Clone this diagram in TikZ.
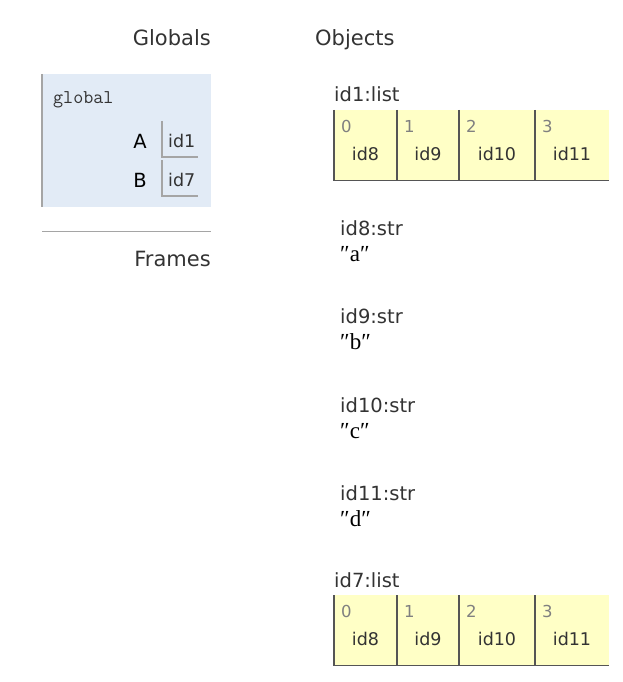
\documentclass[tikz,border=0pt]{standalone}
\usepackage{fontspec}
\setmainfont{DejaVu Sans}
\newfontfamily\strfont{Liberation Serif}
\usepackage{tikz}
\usetikzlibrary{positioning}

\definecolor{frameblue}{RGB}{226,235,246}
\definecolor{listyellow}{RGB}{255,255,198}
\definecolor{textgray}{RGB}{51,51,51}
\definecolor{idxgray}{RGB}{128,128,128}
\definecolor{rulegray}{RGB}{165,165,165}
\definecolor{listborder}{RGB}{85,85,85}

\begin{document}
\begin{tikzpicture}[x=1pt, y=-1pt]
  \tikzset{HeadStyle/.style = {inner sep=0pt, text=textgray, font=\fontsize{21}{25}\selectfont}}
  \tikzset{TitleStyle/.style = {inner sep=0pt, text=textgray, font=\fontsize{19.5}{23}\selectfont}}
  \tikzset{LabelStyle/.style = {inner sep=0pt, text=textgray, font=\fontsize{17.5}{21}\selectfont}}
  \tikzset{IndexStyle/.style = {inner sep=0pt, text=idxgray, font=\fontsize{16.5}{19}\selectfont}}
  \tikzset{StrStyle/.style = {inner sep=0pt, text=black, font=\strfont\fontsize{23}{26}\selectfont}}
  \tikzset{CellStyle/.style = {shape=rectangle, fill=listyellow, inner sep=0pt,
                               minimum height=70pt, anchor=north west}}
  \useasboundingbox (0,0) rectangle (623,682);

	%%% GLOBALS %%%
	\node[HeadStyle, anchor=base east] (globals) at (211,46) {Globals};
	\node[shape=rectangle, fill=frameblue, inner sep=0pt, minimum width=169pt,
	      minimum height=133pt, anchor=north west] (frame) at (42,74) {};
	\draw[rulegray, line width=1.5pt] (frame.north west) -- (frame.south west);
	\node[inner sep=0pt, anchor=base west, text=textgray, font=\ttfamily\fontsize{19.5}{22}\selectfont]
	      (gname) at (53,103) {global};
	\node[inner sep=0pt, anchor=base east, font=\fontsize{19.5}{22}\selectfont] (varA) at (147,148) {A};
	\node[inner sep=0pt, anchor=base east, font=\fontsize{19.5}{22}\selectfont] (varB) at (147,187) {B};
	\node[LabelStyle, anchor=base west] (refA) at (168,147) {id1};
	\node[LabelStyle, anchor=base west] (refB) at (168,186) {id7};
	\coordinate (boxA) at (162,121);
	\coordinate (boxB) at (162,160);
	\draw[rulegray, line width=1.2pt] (boxA) -- ++(0,36) -- ++(36,0);
	\draw[rulegray, line width=1.2pt] (boxB) -- ++(0,36) -- ++(36,0);
	%
	\coordinate (sepL) at (42,231);
	\coordinate (sepR) at (211,231);
	\draw[rulegray, line width=1pt] (sepL) -- (sepR);
	\node[HeadStyle, anchor=base east] (frames) at (211,266) {Frames};

	%%% OBJECTS %%%
	\node[HeadStyle, anchor=base west] (objects) at (315,46) {Objects};
	\foreach \n/\t/\y in {a/id1/110, b/id7/595} {
	  \node[TitleStyle, anchor=base west] (\n name) at (334,\y-8) {\t:list};
	  \foreach \i/\xa/\xb/\v in {0/334/397/id8, 1/397/459/id9, 2/459/535/id10, 3/535/609/id11} {
	    \node[CellStyle, minimum width=\xb-\xa] (\n\i) at (\xa,\y) {};
	    \draw[listborder, line width=1.2pt] (\n\i.north west) -- (\n\i.south west) -- (\n\i.south east);
	    \node[IndexStyle, anchor=base west] (\n\i idx) at (\xa+7,\y+22) {\i};
	    \node[LabelStyle, anchor=base] (\n\i val) at ({(\xa+\xb)/2},\y+50) {\v};
	  }
	}
	%
	\foreach \t/\s/\y in {id8/a/235, id9/b/323, id10/c/412, id11/d/500} {
	  \node[TitleStyle, anchor=base west] (\t head) at (340,\y) {\t:str};
	  \node[StrStyle, anchor=base west] (\t val) at (340,\y+26) {″\s″};
	}
\end{tikzpicture}
\end{document}
